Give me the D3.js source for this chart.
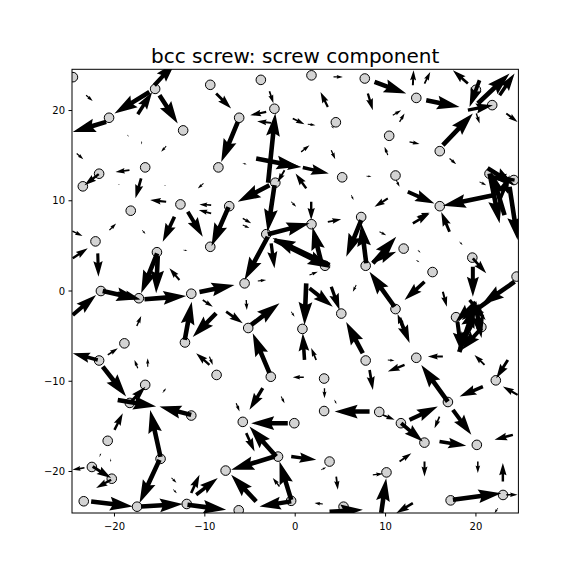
<!DOCTYPE html>
<html>
<head>
<meta charset="utf-8">
<script src="https://cdn.jsdelivr.net/npm/d3@7"></script>
<style>
    body { margin: 0; background: #fff; }
    svg { display: block; font-family: "DejaVu Sans", sans-serif; }
</style>
</head>
<body>
<div class="ddMap"></div>
<script>
// ----- DATA -------------------------------------------------------------
const title = "bcc screw: screw component";

// atom positions (x, y)
const atoms = [
    [-24.6, 23.7], [-15.5, 22.4], [-9.4, 22.85], [-3.8, 23.4], [1.8, 23.9], [7.7, 23.55], [13.4, 21.4], [20.0, 22.3], [21.8, 20.6],
    [-20.6, 19.2], [-12.4, 17.8], [-6.2, 19.2], [-2.3, 20.2], [4.5, 18.7], [10.4, 17.2], [16.0, 15.5],
    [-16.6, 13.7], [-21.7, 13.0], [-23.5, 11.6], [-8.5, 13.7], [5.2, 12.6], [-2.2, 12.0], [11.1, 12.8], [21.5, 13.0], [24.2, 12.3],
    [-18.2, 8.9], [-12.7, 9.6], [-7.3, 9.4], [7.3, 8.2], [16.0, 9.4],
    [-22.1, 5.5], [-15.3, 4.3], [-9.4, 4.9], [-3.2, 6.3], [1.8, 7.4], [12.0, 4.7], [19.6, 3.7],
    [7.8, 2.8], [3.3, 2.8], [15.2, 2.1], [24.5, 1.6], [-5.6, 0.85],
    [-21.5, 0.0], [-17.3, -0.8], [-11.5, -0.3], [11.1, -2.0], [5.1, -2.5], [17.8, -2.9], [20.6, -4.0],
    [-5.2, -4.1], [0.8, -4.2], [-12.2, -5.7], [-18.9, -5.8], [-21.7, -7.7], [7.8, -7.7], [13.4, -7.4],
    [-8.7, -9.3], [-2.7, -9.5], [3.2, -9.7], [-16.6, -10.4], [22.2, -9.9], [-18.3, -12.4], [16.9, -12.3],
    [-11.5, -13.8], [9.3, -13.4], [3.2, -13.3],
    [-0.1, -14.65], [-5.8, -14.5], [11.7, -14.65], [14.3, -16.8], [20.1, -17.05], [-20.75, -16.6], [-14.9, -18.6],
    [-1.9, -18.35], [3.8, -18.9], [-7.7, -19.9], [-22.5, -19.5], [-20.3, -20.8], [10.1, -20.1],
    [-23.4, -23.3], [-17.5, -23.9], [-12.0, -23.6], [-6.25, -24.3], [-0.45, -23.25], [5.35, -23.9], [17.2, -23.2], [23.0, -22.6]
];

// differential displacement arrows (tail x, tail y, u, v)
const arrows = [
    [-16.13, 22.06, -3.87, -2.39], [-17.42, 19.59, 1.59, 2.47], [-20.92, 18.74, -3.70, -1.11], [-15.02, 21.70, 2.02, -3.13],
    [-15.58, 22.80, 2.32, 2.55], [-23.14, 21.70, 0.73, -0.63], [-14.28, 16.05, -0.55, -0.63], [-24.18, 15.24, 0.74, -0.63],
    [-21.74, 12.95, -1.58, -1.22], [-18.34, 13.39, -1.55, -0.19], [-17.05, 12.48, -0.63, -2.21], [-14.28, 9.89, -1.77, 0.19],
    [-10.15, 11.92, -0.63, -0.55], [-9.30, 9.52, -1.30, 0.08], [-9.30, 8.60, -1.37, 0.37],
    [-18.6, 17.3, 0.2, -0.2], [-17.0, 16.6, 0.0, -0.35], [-19.6, 11.8, 0.2, 0.0], [-14.5, 11.7, 0.2, 0.05],
    [-8.75, 21.89, 1.66, -1.66], [-2.85, 22.14, 0.44, -1.33], [-3.21, 19.85, -1.77, -0.37], [-2.66, 18.63, -1.55, 0.19],
    [-6.35, 18.74, -1.84, -4.43], [-3.0, 12.0, 0.8, 7.7], [-2.29, 11.73, -0.77, -5.20], [-0.27, 19.12, 1.30, -0.63],
    [1.39, 18.49, 0.85, -0.11], [3.61, 20.40, -0.81, 1.66], [4.24, 23.72, 1.03, 0], [0.66, 15.42, 0.92, 0.74],
    [3.99, 15.61, 0.44, -1.0], [-4.32, 14.69, 4.79, -0.93], [-1.63, 13.95, 2.32, -0.22], [0.84, 13.69, 2.88, -0.66],
    [1.22, 11.37, -1.18, 1.66], [-2.85, 11.73, -3.51, -1.85], [-5.80, 14.14, 0.44, -0.08], [1.77, 9.89, 0, -2.03],
    [-0.44, 9.89, 0.55, -0.55], [-1.18, 13.39, -0.77, -1.33], [3.99, 18.3, 0.3, -0.3], [6.2, 10.63, 0.26, -0.55],
    [8.78, 23.17, 3.51, -1.28], [13.02, 22.80, 0.08, 1.66], [14.31, 22.99, 0.63, 1.28], [8.04, 21.89, 0.55, -1.85],
    [14.50, 21.14, 3.69, -0.74], [19.11, 22.99, -1.66, 1.47], [20.21, 20.78, 3.51, 3.32], [22.62, 21.70, 1.66, 2.40],
    [16.34, 16.16, 3.32, 3.51], [19.11, 20.04, 2.77, 0.55], [20.04, 19.67, 0.37, -1.11], [20.40, 23.36, -1.11, -2.96],
    [23.36, 19.67, 1.25, -0.93], [11.55, 18.74, 0.55, 0.93], [10.80, 19.48, 0.93, 0.55], [12.65, 16.53, 1.11, -0.25],
    [10.25, 15.06, -0.37, 0.92], [17.08, 14.69, 0.74, -0.63], [7.89, 12.73, 0.55, -0.05], [11.18, 12.29, 0.37, -0.74],
    [12.46, 10.99, 2.95, -1.28], [10.25, 10.26, -1.47, -0.93], [13.57, 8.23, 1.30, 0.44], [22.06, 10.63, -5.72, -1.18],
    [21.51, 13.03, 1.11, -5.53], [23.72, 11.55, 0.89, -5.90], [21.29, 13.62, 2.99, -1.88], [24.28, 12.29, -2.77, 0.44],
    [23.17, 8.41, -1.44, 4.76], [22.62, 10.07, 1.11, 2.77], [20.40, 12.10, 0.74, -0.37],
    [-13.36, 8.23, -1.30, -2.77], [-11.89, 8.78, 1.66, -2.77], [-7.38, 9.30, -1.88, -4.32], [-20.56, 6.75, 0.74, 0.74],
    [-16.94, 6.75, 0.37, -0.44], [-24.65, 6.64, 1.11, -0.55], [-24.62, 3.62, 1.66, 1.11], [-21.85, 4.17, 0.08, -2.59],
    [-12.37, 4.54, 0.44, -0.08], [-12.81, 1.22, -1.11, 1.30], [-15.28, 4.17, -1.77, -4.43], [-15.21, 3.87, -0.18, -4.13],
    [-21.30, 0, 4.06, -0.92], [-19.67, -0.22, 2.55, -0.72], [-16.68, -0.92, 4.62, 0.37], [-24.62, -2.66, 2.59, 2.21],
    [-10.59, -0.11, 3.87, 0.77], [-10.23, -1.0, 1.11, -0.74], [-17.53, -3.87, 0.49, 1.11], [-12.22, -5.42, 0.77, 4.24],
    [-8.75, -2.47, -2.59, -2.62], [-20.74, -7.08, 1.11, 0.74], [-21.85, -7.64, -2.77, 0.74], [-9.49, -8.19, -1.47, 1.30],
    [-9.49, -7.27, 0.37, -0.92], [-17.42, -8.56, -0.37, 0.92], [-16.32, -8.38, 0, 0.92],
    [-5.80, 8.05, 0.93, -0.55], [-5.80, 7.31, 0.74, -0.33], [3.61, 7.67, 1.48, 0.27], [-3.03, 6.28, 4.62, 1.22],
    [3.80, 2.88, -6.31, 2.99], [-2.29, 5.65, 6.20, -3.10], [-2.66, 5.28, 0.37, -2.77], [-3.03, 6.01, -2.58, -4.79],
    [2.91, 3.10, -1.0, 3.99], [7.31, 7.86, -1.66, -4.06], [7.86, 3.07, -0.55, 4.43], [-4.14, 1.11, 0.93, 0.11],
    [1.58, 1.77, 0.92, 0.37], [6.75, 0.66, -0.37, -0.74], [-5.42, -1.0, 0.07, -1.11], [-7.64, -2.29, 1.84, -1.28],
    [-4.87, -3.76, 3.13, 2.40], [-2.85, -9.08, -1.85, 4.39], [1.22, 0.85, -0.19, -4.62], [1.58, 0.30, 2.58, -2.04],
    [3.99, 0.48, 0.92, -2.58], [1.03, -7.64, -0.19, 2.96], [2.32, -7.64, -0.55, 1.33], [-0.44, -2.29, 0.37, -0.55],
    [7.48, -6.90, -1.84, 3.46],
    [13.02, 7.49, 1.85, 1.11], [17.08, 6.56, -0.92, 2.21], [8.59, 3.07, 2.59, 2.94], [8.59, 3.24, 2.59, 1.11],
    [9.33, 6.56, 0.74, -0.37], [19.66, 3.62, 1.48, -1.66], [19.66, 2.69, 0, -3.32], [16.34, -0.08, 0.44, -1.66],
    [14.31, 1.03, -2.21, -2.03], [24.28, 1.03, -3.69, -2.58], [10.99, -1.74, -2.77, 3.87], [11.55, -2.99, 1.11, -2.77],
    [11.88, -4.10, -0.55, 1.55], [16.34, -7.27, -1.66, 0], [10.25, -7.64, 0.74, -0.08], [12.10, -8.19, -1.85, -0.74],
    [20.95, -8.19, -1.11, 1.11], [23.53, -7.64, -1.28, -2.03],
    [19.96, -1.22, -2.21, -2.21], [17.96, -3.43, 0.44, -3.32], [19.52, -3.76, -1.55, -2.99], [20.62, -4.10, -2.21, -2.44],
    [18.16, -6.75, 1.77, 5.20], [19.96, -1.55, 0.66, -3.65], [19.30, -1.0, 1.77, -2.21], [21.51, -1.0, -3.10, -2.21],
    [18.19, 5.46, 0.33, -0.37], [13.57, 4.54, 0.3, -0.3], [13.4, 3.4, 0.35, -0.2],
    [-21.30, -8.38, 2.59, -3.32], [-14.66, -11.26, 0.37, 0.49], [-18.27, -12.37, 1.70, 1.77], [-19.64, -12.07, 4.25, -0.74],
    [-11.51, -13.73, -3.51, 0.92], [-14.91, -18.38, -1.14, 5.20], [-15.02, -18.71, -2.21, -4.79], [-20.0, -15.39, 0.92, 1.85],
    [-21.66, -18.34, 0.19, 0.37], [-20.42, -18.6, 0, -0.35], [-22.41, -19.45, 2.04, -1.28], [-20.37, -20.92, -1.66, -0.92],
    [-23.32, -19.59, -1.33, -0.22], [-22.58, -23.32, 4.61, -0.55], [-17.05, -23.88, 4.61, 0.27], [-11.92, -23.69, 4.28, -0.55],
    [-11.51, -22.39, 0.92, 2.03], [-10.96, -22.58, 2.39, 1.85], [-13.69, -20.70, 0.55, -0.55], [-13.5, -22.0, 0.4, -0.4],
    [0.95, -9.55, -1.22, 0], [3.24, -10.77, 0, -1.11], [-1.55, -11.70, 0.37, -0.74], [4.35, -12.07, 0.22, -0.44],
    [-3.59, -10.77, -1.47, -2.40], [-6.53, -12.43, 0.37, -0.92], [8.23, -13.36, -3.87, 0], [-0.82, -14.65, -4.05, 0],
    [-2.10, -18.34, -2.96, 3.32], [-5.42, -15.75, 0.92, -2.04], [-0.44, -18.34, 2.77, -0.37], [-2.29, -18.34, -4.79, -1.47],
    [-0.44, -23.14, -1.30, 4.24], [-4.32, -23.32, -2.77, 2.96], [-0.44, -23.32, -3.51, -0.55], [-1.74, -21.66, -0.74, 0.93],
    [2.88, -19.82, 0.55, 0.30], [4.54, -20.56, 0.18, -1.47], [3.06, -23.61, -0.92, 0.11], [3.80, -24.46, 3.69, 0.22],
    [8.23, -8.75, 0.37, -2.21], [16.89, -12.25, -2.94, 4.06], [24.61, -11.51, -1.63, 0.92], [20.77, -10.59, -2.58, -1.11],
    [17.45, -13.17, 2.04, -2.77], [9.70, -13.73, 1.30, -0.55], [12.65, -14.28, 3.13, 1.47], [11.73, -14.65, 2.39, -2.04],
    [15.97, -13.92, -0.55, -1.28], [15.97, -16.68, 2.96, -0.48], [24.09, -15.94, -2.03, -0.55], [8.59, -20.37, 1.11, 0.11],
    [11.55, -18.90, 1.30, 0.93], [14.31, -18.90, 0, -1.66], [20.21, -18.90, 0, -1.28], [22.98, -21.11, 0, 2.04],
    [9.52, -24.58, 0.55, 3.84], [17.45, -23.14, 5.36, 0.74], [23.36, -22.58, 1.25, 0], [13.02, -23.51, -1.84, -1.11],
    [22.43, -24.06, -0.37, -0.55]
];

const xTicks = [-20, -10, 0, 10, 20];
const yTicks = [-20, -10, 0, 10, 20];

// ----- LAYOUT -----------------------------------------------------------
const width = 576, height = 576;
const plot = { left: 72, right: 518.4, top: 69.3, bottom: 513 };
const xDomain = [-24.7, 24.7], yDomain = [-24.6, 24.57];

// quiver arrow geometry, in shaft widths
const SHAFT = 4.6, HEAD_W = 3, HEAD_L = 5, HEAD_AXIS_L = 4.5, MIN_SHAFT = 1.5;

function _arrowPoints( len )
{
    // polygon along +x, tail at origin, length in px
    let lw = len / SHAFT;
    const minLen = MIN_SHAFT * HEAD_L;
    let ys = [0.5, 0.5, HEAD_W / 2, 0, -HEAD_W / 2, -0.5, -0.5];
    let xs;
    if( lw < minLen )
    {
        // short arrows shrink as a whole
        const s = lw / minLen;
        xs = [0, minLen - HEAD_AXIS_L, minLen - HEAD_L, minLen, minLen - HEAD_L, minLen - HEAD_AXIS_L, 0].map(v => v * s);
        ys = ys.map(v => v * s);
    }
    else
    {
        xs = [0, lw - HEAD_AXIS_L, lw - HEAD_L, lw, lw - HEAD_L, lw - HEAD_AXIS_L, 0];
    }
    return xs.map((v, i) => [v * SHAFT, ys[i] * SHAFT]);
}

// ----- DRAW -------------------------------------------------------------
let x = d3.scaleLinear().domain(xDomain).range([plot.left, plot.right]);
let y = d3.scaleLinear().domain(yDomain).range([plot.bottom, plot.top]);

let svg = d3.select(".ddMap").append("svg")
            .attr("width", width)
            .attr("height", height);

svg.append("defs").append("clipPath")
    .attr("id", "plotClip")
    .append("rect")
        .attr("x", plot.left)
        .attr("y", plot.top)
        .attr("width", plot.right - plot.left)
        .attr("height", plot.bottom - plot.top);

let body = svg.append("g").attr("clip-path", "url(#plotClip)");

// atoms
body.selectAll(".atom")
    .data(atoms)
    .enter()
        .append("circle")
        .classed("atom", true)
        .attr("cx", d => x(d[0]))
        .attr("cy", d => y(d[1]))
        .attr("r", 4.8)
        .attr("fill", "#d3d3d3")
        .attr("stroke", "#000")
        .attr("stroke-width", 1);

// arrows
body.selectAll(".arrow")
    .data(arrows)
    .enter()
        .append("polygon")
        .classed("arrow", true)
        .attr("points", d => {
            const x0 = x(d[0]), y0 = y(d[1]);
            const dx = x(d[0] + d[2]) - x0, dy = y(d[1] + d[3]) - y0;
            const len = Math.hypot(dx, dy);
            const c = dx / len, s = dy / len;
            return _arrowPoints(len)
                .map(p => (x0 + p[0] * c - p[1] * s) + "," + (y0 + p[0] * s + p[1] * c))
                .join(" ");
        })
        .attr("fill", "#000");

// frame
svg.append("rect")
    .attr("x", plot.left)
    .attr("y", plot.top)
    .attr("width", plot.right - plot.left)
    .attr("height", plot.bottom - plot.top)
    .attr("fill", "none")
    .attr("stroke", "#000")
    .attr("stroke-width", 1);

const fmt = v => v < 0 ? "\u2212" + Math.abs(v) : String(v);

// x axis ticks
let xAxis = svg.append("g");
xAxis.selectAll("line")
    .data(xTicks)
    .enter()
        .append("line")
        .attr("x1", d => x(d)).attr("x2", d => x(d))
        .attr("y1", plot.bottom).attr("y2", plot.bottom + 3.5)
        .attr("stroke", "#000");
xAxis.selectAll("text")
    .data(xTicks)
    .enter()
        .append("text")
        .text(fmt)
        .attr("x", d => x(d))
        .attr("y", plot.bottom + 17)
        .attr("text-anchor", "middle")
        .attr("font-size", 10);

// y axis ticks
let yAxis = svg.append("g");
yAxis.selectAll("line")
    .data(yTicks)
    .enter()
        .append("line")
        .attr("x1", plot.left - 3.5).attr("x2", plot.left)
        .attr("y1", d => y(d)).attr("y2", d => y(d))
        .attr("stroke", "#000");
yAxis.selectAll("text")
    .data(yTicks)
    .enter()
        .append("text")
        .text(fmt)
        .attr("x", plot.left - 7)
        .attr("y", d => y(d))
        .attr("dy", "0.35em")
        .attr("text-anchor", "end")
        .attr("font-size", 10);

// title
svg.append("text")
    .text(title)
    .attr("x", (plot.left + plot.right) / 2)
    .attr("y", plot.top - 6)
    .attr("text-anchor", "middle")
    .attr("font-size", 20);
</script>
</body>
</html>
